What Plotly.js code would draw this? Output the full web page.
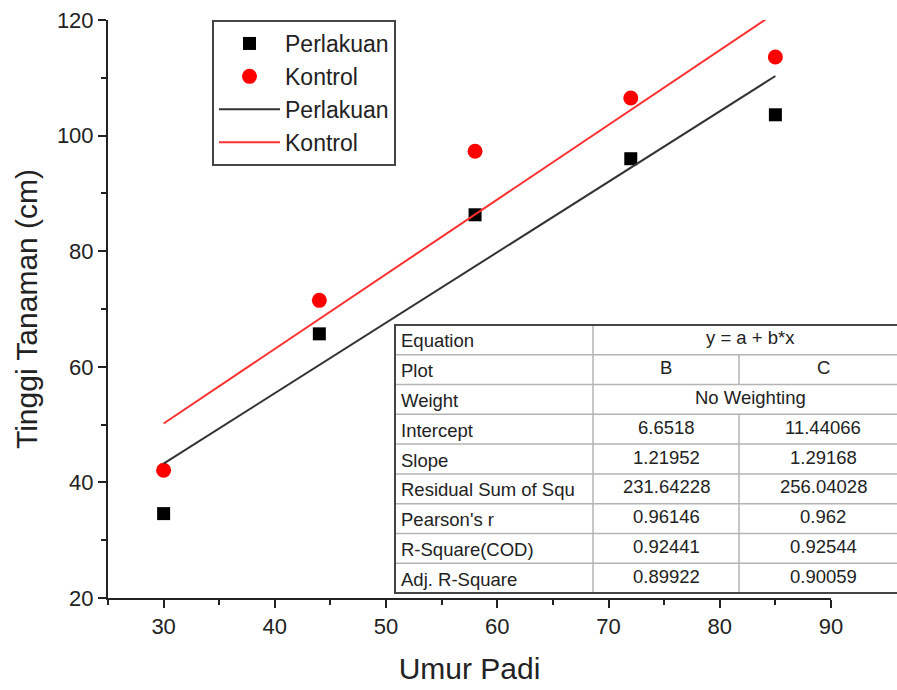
<!DOCTYPE html>
<html>
<head>
<meta charset="utf-8">
<script src="https://cdn.plot.ly/plotly-3.0.1.min.js"></script>
<style>
  html, body { margin: 0; padding: 0; background: #fff; }
  #chart { width: 897px; height: 690px; }
</style>
</head>
<body>
<div id="chart"></div>
<script>
// ---------- data ----------
const umurPadi = [30, 44, 58, 72, 85];
const perlakuan = [34.6, 65.7, 86.3, 96.0, 103.6];
const kontrol = [42.1, 71.5, 97.3, 106.5, 113.6];

const seriesNames = ["Perlakuan", "Kontrol"];

// Fit results table (as shown on the chart)
const tableLabels = ["Equation", "Plot", "Weight", "Intercept", "Slope",
  "Residual Sum of Squ", "Pearson's r", "R-Square(COD)", "Adj. R-Square"];
const equationText = "y = a + b*x";
const weightText = "No Weighting";
const plotNames = ["B", "C"];
const interceptB = "6.6518", interceptC = "11.44066";
const slopeB = "1.21952", slopeC = "1.29168";
const rssB = "231.64228", rssC = "256.04028";
const pearsonB = "0.96146", pearsonC = "0.962";
const r2B = "0.92441", r2C = "0.92544";
const adjR2B = "0.89922", adjR2C = "0.90059";

const xTickVals = [30, 40, 50, 60, 70, 80, 90];
const yTickVals = [20, 40, 60, 80, 100, 120];

// ---------- fit lines from table parameters ----------
const fitX = [Math.min(...umurPadi), Math.max(...umurPadi)];
const fitYB = fitX.map(x => parseFloat(interceptB) + parseFloat(slopeB) * x);
const fitYC = fitX.map(x => parseFloat(interceptC) + parseFloat(slopeC) * x);

// ---------- layout helpers (pixel -> paper) ----------
const W = 897, H = 690;
const L = 108, R = 831, T = 20, B = 598;
const px = x => (x - L) / (R - L);
const py = y => (B - y) / (B - T);

const FONT = "Liberation Sans, Arial, sans-serif";
const TXT = "#222";

const traces = [
  { x: umurPadi, y: perlakuan, name: seriesNames[0], type: "scatter", mode: "markers",
    marker: { symbol: "square", size: 13, color: "#000" }, legendgroup: "a" },
  { x: umurPadi, y: kontrol, name: seriesNames[1], type: "scatter", mode: "markers",
    marker: { symbol: "circle", size: 15, color: "#ff0000" }, legendgroup: "b" },
  { x: fitX, y: fitYB, name: seriesNames[0], type: "scatter", mode: "lines",
    line: { color: "#333", width: 2 }, legendgroup: "c" },
  { x: fitX, y: fitYC, name: seriesNames[1], type: "scatter", mode: "lines",
    line: { color: "#ff3030", width: 2 }, legendgroup: "d" }
];

// ---------- table drawing ----------
const tL = 395, tC1 = 593, tC2 = 739, tR = 907, tTop = 325, tBot = 593;
const nRows = tableLabels.length;
const rowH = (tBot - tTop) / nRows;
const shapes = [];
const annotations = [];

shapes.push({ type: "rect", xref: "paper", yref: "paper", layer: "above",
  x0: px(tL), x1: px(tR), y0: py(tTop), y1: py(tBot),
  fillcolor: "#fff", line: { color: "#fff", width: 0 } });
// horizontal inner lines
for (let i = 1; i < nRows; i++) {
  const yy = tTop + i * rowH;
  shapes.push({ type: "line", xref: "paper", yref: "paper", layer: "above",
    x0: px(tL), x1: px(tR), y0: py(yy), y1: py(yy), line: { color: "#b4b4b4", width: 1.5 } });
}
// vertical line after label column
shapes.push({ type: "line", xref: "paper", yref: "paper", layer: "above",
  x0: px(tC1), x1: px(tC1), y0: py(tTop), y1: py(tBot), line: { color: "#b4b4b4", width: 1.5 } });
// vertical line between B and C (rows except Equation and Weight)
for (let i = 0; i < nRows; i++) {
  if (i === 0 || i === 2) continue;
  shapes.push({ type: "line", xref: "paper", yref: "paper", layer: "above",
    x0: px(tC2), x1: px(tC2), y0: py(tTop + i * rowH), y1: py(tTop + (i + 1) * rowH),
    line: { color: "#b4b4b4", width: 1.5 } });
}
// outer border
shapes.push({ type: "rect", xref: "paper", yref: "paper", layer: "above",
  x0: px(tL), x1: px(tR), y0: py(tTop), y1: py(tBot),
  fillcolor: "rgba(0,0,0,0)", line: { color: "#444", width: 2 } });

const colB = [null, plotNames[0], null, interceptB, slopeB, rssB, pearsonB, r2B, adjR2B];
const colC = [null, plotNames[1], null, interceptC, slopeC, rssC, pearsonC, r2C, adjR2C];
const TF = 18.5;
for (let i = 0; i < nRows; i++) {
  const yc = tTop + (i + 0.5) * rowH;
  annotations.push({ xref: "paper", yref: "paper", x: px(tL + 4), y: py(yc + 1),
    xanchor: "left", yanchor: "middle", text: tableLabels[i], showarrow: false,
    font: { family: FONT, size: TF, color: TXT } });
  if (i === 0 || i === 2) {
    annotations.push({ xref: "paper", yref: "paper", x: px((tC1 + tR) / 2), y: py(yc - 2),
      xanchor: "center", yanchor: "middle", text: i === 0 ? equationText : weightText,
      showarrow: false, font: { family: FONT, size: TF, color: TXT } });
  } else {
    annotations.push({ xref: "paper", yref: "paper", x: px((tC1 + tC2) / 2), y: py(yc - 2),
      xanchor: "center", yanchor: "middle", text: colB[i], showarrow: false,
      font: { family: FONT, size: TF, color: TXT } });
    annotations.push({ xref: "paper", yref: "paper", x: px((tC2 + tR) / 2), y: py(yc - 2),
      xanchor: "center", yanchor: "middle", text: colC[i], showarrow: false,
      font: { family: FONT, size: TF, color: TXT } });
  }
}

const layout = {
  width: W, height: H,
  margin: { l: L, r: W - R, t: T, b: H - B, pad: 0 },
  paper_bgcolor: "#fff", plot_bgcolor: "#fff",
  font: { family: FONT, color: TXT },
  showlegend: true,
  legend: {
    x: px(212), y: py(20), xanchor: "left", yanchor: "top",
    bgcolor: "#fff", bordercolor: "#444", borderwidth: 2,
    font: { family: FONT, size: 23, color: TXT },
    itemwidth: 61, traceorder: "grouped", tracegroupgap: 0
  },
  xaxis: {
    range: [25, 90], tickvals: xTickVals, ticktext: xTickVals.map(String),
    showgrid: false, zeroline: false, showline: true, linecolor: "#222", linewidth: 2,
    ticks: "outside", ticklen: 8, tickwidth: 2, tickcolor: "#222",
    minor: { dtick: 5, ticks: "outside", ticklen: 5, tickwidth: 2, tickcolor: "#222", showgrid: false },
    tickfont: { family: FONT, size: 22, color: TXT },
    title: { text: "Umur Padi", font: { family: FONT, size: 30, color: TXT }, standoff: 20 },
    automargin: false, fixedrange: true
  },
  yaxis: {
    range: [20, 120], tickvals: yTickVals, ticktext: yTickVals.map(String),
    showgrid: false, zeroline: false, showline: true, linecolor: "#222", linewidth: 2,
    ticks: "outside", ticklen: 8, tickwidth: 2, tickcolor: "#222",
    minor: { dtick: 10, ticks: "outside", ticklen: 5, tickwidth: 2, tickcolor: "#222", showgrid: false },
    tickfont: { family: FONT, size: 22, color: TXT },
    title: { text: "Tinggi Tanaman (cm)", font: { family: FONT, size: 30, color: TXT }, standoff: 10 },
    automargin: false, fixedrange: true
  },
  shapes: shapes,
  annotations: annotations
};

Plotly.newPlot("chart", traces, layout, { displayModeBar: false, staticPlot: true });
</script>
</body>
</html>
